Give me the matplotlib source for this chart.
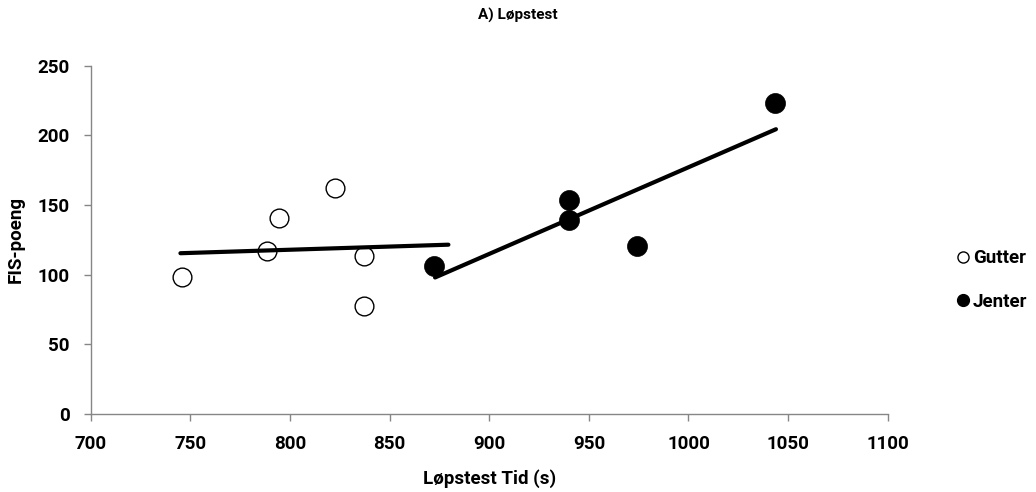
import numpy as np
import matplotlib
matplotlib.use("Agg")
import matplotlib.pyplot as plt
from matplotlib.lines import Line2D

# Data
gutter_tid = [745.7, 788.3, 794.7, 822.5, 837.2, 837.2]
gutter_fis = [98.0, 117.2, 140.5, 162.0, 113.4, 77.5]
jenter_tid = [872.5, 940.1, 940.1, 974.3, 1043.4]
jenter_fis = [106.2, 153.6, 139.3, 120.6, 223.0]
gutter_trend_range = [745.0, 879.5]
jenter_trend_range = [872.8, 1043.9]

x_ticks = [700, 750, 800, 850, 900, 950, 1000, 1050, 1100]
y_ticks = [0, 50, 100, 150, 200, 250]

FONT = ['Roboto', 'DejaVu Sans']
plt.rcParams['font.family'] = FONT
plt.rcParams['font.weight'] = 'bold'

fig = plt.figure(figsize=(10.36, 4.92), dpi=100)
ax = fig.add_axes([0.0876, 0.1585, 0.7693, 0.708])

ax.scatter(gutter_tid, gutter_fis, s=13.5**2, facecolor='white', edgecolor='black',
           linewidths=1.0, zorder=3)
ax.scatter(jenter_tid, jenter_fis, s=14.4**2, facecolor='black', edgecolor='black',
           linewidths=0.5, zorder=3)

for xs, ys, rng in [(gutter_tid, gutter_fis, gutter_trend_range),
                    (jenter_tid, jenter_fis, jenter_trend_range)]:
    k, m = np.polyfit(xs, ys, 1)
    xr = np.array(rng)
    ax.plot(xr, k * xr + m, color='black', lw=3.0, solid_capstyle='round', zorder=4)

ax.set_xlim(700, 1100)
ax.set_ylim(0, 250)
ax.set_xticks(x_ticks)
ax.set_yticks(y_ticks)
ax.tick_params(axis='both', labelsize=13.5, length=5, width=1, color='#868686',
               direction='out')
ax.tick_params(axis='x', pad=10)
ax.tick_params(axis='y', pad=10)
for lab in ax.get_xticklabels() + ax.get_yticklabels():
    lab.set_fontweight('bold')
for s in ['top', 'right']:
    ax.spines[s].set_visible(False)
for s in ['left', 'bottom']:
    ax.spines[s].set_color('#868686')
    ax.spines[s].set_linewidth(1)

ax.set_xlabel('Løpstest Tid (s)', fontsize=13.5, fontweight='bold', labelpad=12)
ax.set_ylabel('FIS-poeng', fontsize=13.5, fontweight='bold', labelpad=9)
fig.text(0.5, 1 - 15 / 492, 'A) Løpstest', ha='center', va='center',
         fontsize=11, fontweight='bold')

handles = [Line2D([], [], ls='none', marker='o', markersize=8, markerfacecolor='white',
                  markeredgecolor='black', markeredgewidth=1.0),
           Line2D([], [], ls='none', marker='o', markersize=8.5, markerfacecolor='black',
                  markeredgecolor='black')]
fig.legend(handles, ['Gutter', 'Jenter'], loc='center left',
           bbox_to_anchor=(957 / 1036, 1 - 280 / 492), frameon=False,
           prop={'size': 13.5, 'weight': 'bold'}, handlelength=0.6, handletextpad=0.25,
           labelspacing=1.35, borderpad=0, borderaxespad=0)

fig.savefig('out.png', dpi=100, facecolor='white')
